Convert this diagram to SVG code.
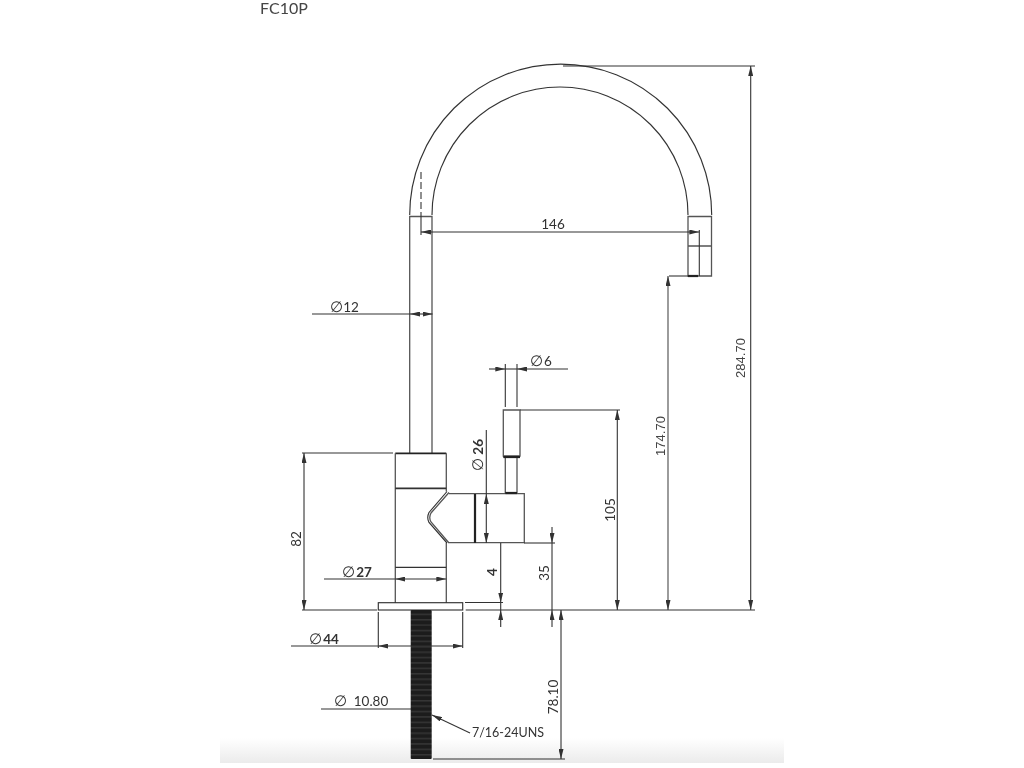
<svg xmlns="http://www.w3.org/2000/svg" width="1024" height="768" viewBox="0 0 1024 768">
<style>
.o{fill:none;stroke:#333;stroke-width:1.150}
.n{fill:none;stroke:#555;stroke-width:1.300}
.t{fill:none;stroke:#222;stroke-width:2.200}
.d{fill:none;stroke:#333;stroke-width:1.100}
.l{font-family:"Lato","Liberation Sans",sans-serif;font-size:13.500px;fill:#333;text-anchor:middle}
.a{font-family:"Liberation Sans",sans-serif;font-size:13px;fill:#444;text-anchor:middle}
.s{font-family:"DejaVu Sans",sans-serif;font-size:15px;fill:#333}
.b{filter:url(#soft)}
</style>
<defs>
<filter id="soft" x="-5%" y="-5%" width="110%" height="110%"><feGaussianBlur stdDeviation="0.4"/></filter>
<linearGradient id="g" x1="0" y1="0" x2="0" y2="1"><stop offset="0" stop-color="#fff"/><stop offset="1" stop-color="#ebebeb"/></linearGradient>
<marker id="ar" viewBox="0 0 10 5" refX="10" refY="2.500" markerWidth="10" markerHeight="5" markerUnits="userSpaceOnUse" orient="auto-start-reverse"><path d="M0 0L10 2.500L0 5Z" fill="#333"/></marker>
<pattern id="th" x="0" y="610" width="22" height="5.400" patternUnits="userSpaceOnUse"><rect width="22" height="5.400" fill="#1d1d1d"/><rect y="4" width="22" height="0.800" fill="#4a4a4a"/></pattern>
</defs>
<rect width="1024" height="768" fill="#fff"/>
<rect x="220" y="738" width="564" height="25" fill="url(#g)"/>
<text x="260" y="14" font-family="Lato,'Liberation Sans',sans-serif" font-size="16" fill="#444" class="b">FC10P</text>
<g class="b">
<g id="spout">
<path class="o" d="M409.700 215A151 151 0 0 1 711.700 215"/>
<path class="o" d="M432 215A128 128 0 0 1 688 215"/>
<path class="n" d="M409.700 453V216.500H432V453"/>
<path class="n" d="M688 216.500H711.500V276H688ZM688 246H711.500"/>
<path class="t" d="M688 276H698"/>
</g>
<g id="body">
<path class="t" d="M395.300 453.300H446.300" style="stroke-width:1.800"/>
<path class="n" d="M395.300 453.300V603M446.300 453.300V491.500M446.300 543V603"/>
<path class="o" d="M395.300 488.300H446.300" style="stroke-width:1.700"/>
<path class="o" d="M395.300 567.300H446.300"/>
<path class="o" d="M447 491.500L429 512.500Q426.500 517.500 429 522.500L447 543"/>
<path class="n" d="M449 492.500L431 513Q428.500 517.500 431 522L449 543"/>
</g>
<g id="handle">
<path class="n" d="M449 493.700H524.300V542.700H449"/>
<path class="t" d="M475 494V543"/>
<path class="n" d="M505.300 457V493M517 457V493"/>
<path class="t" d="M505.300 493H517"/>
<path class="n" d="M503.300 410H520V456H503.300Z"/>
<path class="t" d="M503.300 457H520"/>
</g>
<g id="base">
<rect class="o" x="378.300" y="602.700" width="84.400" height="7.300"/>
<rect x="410.700" y="610" width="21" height="149" rx="1" fill="url(#th)"/>
</g>
<g id="connectors" class="d">
<path d="M563 66H755"/>
<path d="M750.700 66V610" marker-start="url(#ar)" marker-end="url(#ar)"/>
<path d="M421 172V215" stroke-dasharray="7 3"/>
<path d="M421 215V235M699.300 230V276"/>
<path d="M421 232H699.300" marker-start="url(#ar)" marker-end="url(#ar)"/>
<path d="M669 276H688"/>
<path d="M668 276V610" marker-start="url(#ar)" marker-end="url(#ar)" style="stroke:#666;stroke-width:1.300"/>
<path d="M312 314H410"/>
<path d="M410 314H432.500" marker-start="url(#ar)" marker-end="url(#ar)"/>
<path d="M489 369H505.300" marker-end="url(#ar)"/>
<path d="M568 369H517" marker-end="url(#ar)"/>
<path d="M505.300 369H517"/>
<path d="M505.300 364V407M517 364V407"/>
<path d="M520 410H620"/>
<path d="M617.300 410V610" marker-start="url(#ar)" marker-end="url(#ar)"/>
<path d="M486.300 430V494"/>
<path d="M486.300 494V543" marker-start="url(#ar)" marker-end="url(#ar)"/>
<path d="M302 453H393"/>
<path d="M304 453V610" marker-start="url(#ar)" marker-end="url(#ar)"/>
<path d="M324 579H395.300"/>
<path d="M395.300 579H446.300" marker-start="url(#ar)" marker-end="url(#ar)"/>
<path d="M302 610H377M465.700 610H755"/>
<path d="M465 602.500H503"/>
<path d="M500.700 543V602.500" marker-end="url(#ar)"/>
<path d="M500.700 627V610" marker-end="url(#ar)"/>
<path d="M500.700 602.500V610"/>
<path d="M524 543H555"/>
<path d="M552 527V543" marker-end="url(#ar)"/>
<path d="M552 543V610"/>
<path d="M552 627V610" marker-end="url(#ar)"/>
<path d="M561 610V759" marker-start="url(#ar)" marker-end="url(#ar)"/>
<path d="M433 759H565"/>
<path d="M378.300 612V648M462.700 612V648"/>
<path d="M291 646H378.300"/>
<path d="M378.300 646H462.700" marker-start="url(#ar)" marker-end="url(#ar)"/>
<path d="M321 709H411"/>
<path d="M470 733L432 715" marker-end="url(#ar)"/>
</g>
<g id="labels">
<text class="l" x="553" y="229">146</text>
<text class="s" x="330" y="312">∅</text><text class="l" x="351" y="312">12</text>
<text class="s" x="530" y="366">∅</text><text class="l" x="548" y="366">6</text>
<text class="s" x="342" y="577">∅</text><text class="l" x="364" y="577" font-weight="700">27</text>
<text class="s" x="309" y="644">∅</text><text class="l" x="331" y="644" font-weight="700">44</text>
<text class="s" x="334" y="706">∅</text><text class="l" x="371" y="706">10.80</text>
<text class="l" x="508" y="737" style="font-size:12.500px">7/16-24UNS</text>
<text class="l" transform="translate(483 455) rotate(-90)" font-weight="700"><tspan style="font-family:'DejaVu Sans';font-size:15px" font-weight="400">∅</tspan> 26</text>
<text class="l" transform="translate(301 539) rotate(-90)">82</text>
<text class="l" transform="translate(615 510) rotate(-90)">105</text>
<text class="l" transform="translate(497 572) rotate(-90)" font-weight="700">4</text>
<text class="l" transform="translate(549 573) rotate(-90)">35</text>
<text class="l" transform="translate(558 697) rotate(-90)">78.10</text>
<text class="a" transform="translate(665 436) rotate(-90)">174.70</text>
<text class="a" transform="translate(745 358) rotate(-90)">284.70</text>
</g>
</g>
</svg>
